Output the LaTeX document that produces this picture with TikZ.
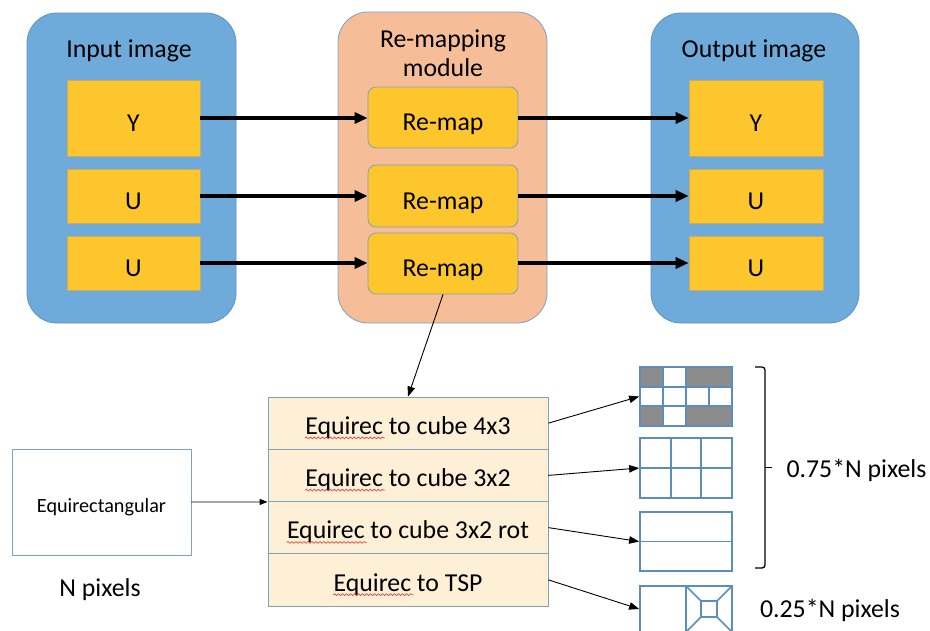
\documentclass[tikz,border=0pt]{standalone}
\usepackage{fontspec}
\setmainfont{Carlito}
\usetikzlibrary{arrows.meta,decorations.pathmorphing}

\definecolor{panelblue}{HTML}{6EABDA}
\definecolor{paneledge}{HTML}{5F92BF}
\definecolor{gold}{HTML}{FEC62D}
\definecolor{goldedge}{HTML}{C9AC62}
\definecolor{peach}{HTML}{F5BE98}
\definecolor{cream}{HTML}{FDF0D7}
\definecolor{slateedge}{HTML}{7FA1C0}
\definecolor{gridblue}{HTML}{5B8EBE}
\definecolor{cellgray}{HTML}{8C8C8C}
\definecolor{spellred}{HTML}{E0302A}

\begin{document}
\begin{tikzpicture}[x=1pt,y=-1pt,
  font=\fontsize{25.8}{29}\selectfont,
  panel/.style={draw=paneledge, line width=0.8pt, fill=panelblue, rounded corners=30pt, inner sep=0pt},
  chan/.style={draw=goldedge, line width=0.6pt, fill=gold, inner sep=0pt, text height=26pt, text depth=0pt},
  remapbox/.style={draw=slateedge, line width=0.8pt, fill=gold, rounded corners=8pt, inner sep=0pt,
                   minimum width=150pt, text height=26pt, text depth=0pt},
  maprow/.style={draw=slateedge, line width=0.9pt, fill=cream, minimum width=280pt, minimum height=52.25pt, inner sep=0pt},
  rowtext/.style={inner sep=0pt, anchor=base},
  layout/.style={draw=gridblue, line width=1.7pt, minimum width=92pt, inner sep=0pt},
  gridline/.style={draw=gridblue, line width=1.7pt},
  bigarrow/.style={line width=3.3pt, -{Triangle[length=13pt,width=11pt]}},
  thinarrow/.style={line width=0.9pt, -{Triangle[length=10pt,width=7.5pt]}},
  squiggle/.style={draw=spellred, line width=0.6pt,
                   decorate, decoration={snake, amplitude=0.9pt, segment length=4pt}}
]
\useasboundingbox (0,0) rectangle (930,630);
\clip (0,0) rectangle (930,630);

% ---- three top panels ----
\node[panel, minimum width=209pt, minimum height=310pt] (inpanel) at (131.5,168) {};
\node[panel, fill=peach, draw=slateedge, minimum width=209pt, minimum height=311pt] (midpanel) at (442.5,167.5) {};
\node[panel, minimum width=208pt, minimum height=310pt] (outpanel) at (755,168) {};

\node[anchor=base] (intitle) at (129,57.3) {Input image};
\node[align=center] (midtitle) at (443,53.5) {Re-mapping\\module};
\node[anchor=base] (outtitle) at (754,57.8) {Output image};

% ---- Y/U/U channels ----
\node[chan, minimum width=133pt, minimum height=76pt] (inY)  at (133.5,118) {Y};
\node[chan, minimum width=133pt, minimum height=54pt] (inU1) at (133.5,196) {U};
\node[chan, minimum width=133pt, minimum height=54pt] (inU2) at (133.5,263) {U};

\node[remapbox, minimum height=61pt] (rm1) at (443,117.5) {Re-map};
\node[remapbox, minimum height=62pt] (rm2) at (443,196) {Re-map};
\node[remapbox, minimum height=61pt] (rm3) at (443,263.5) {Re-map};

\node[chan, minimum width=134pt, minimum height=76pt] (outY)  at (756,118) {Y};
\node[chan, minimum width=134pt, minimum height=54pt] (outU1) at (756,196) {U};
\node[chan, minimum width=134pt, minimum height=54pt] (outU2) at (756,263) {U};

\draw[bigarrow] (inY.east)  -- (rm1.west |- inY.east);
\draw[bigarrow] (inU1.east) -- (rm2.west |- inU1.east);
\draw[bigarrow] (inU2.east) -- (rm3.west |- inU2.east);
\draw[bigarrow] (rm1.east |- outY.west)  -- (outY.west);
\draw[bigarrow] (rm2.east |- outU1.west) -- (outU1.west);
\draw[bigarrow] (rm3.east |- outU2.west) -- (outU2.west);

% ---- mapping table ----
\node[maprow] (row1) at (408,423.125) {};
\node[maprow] (row2) at (408,475.375) {};
\node[maprow] (row3) at (408,527.625) {};
\node[maprow] (row4) at (408,579.875) {};

\node[rowtext] (t1) at ([yshift=-11.2pt]row1.center) {Equirec to cube 4x3};
\node[rowtext] (t2) at ([yshift=-11.2pt]row2.center) {Equirec to cube 3x2};
\node[rowtext] (t3) at ([yshift=-11.2pt]row3.center) {Equirec to cube 3x2 rot};
\node[rowtext] (t4) at ([yshift=-11.2pt]row4.center) {Equirec to TSP};
\foreach \t in {t1,t2,t3,t4}
  \draw[squiggle] ([yshift=-3.6pt]\t.base west) -- ++(80,0);

\draw[thinarrow] (rm3.south) -- (row1.north);

% ---- source frame ----
\node[draw=slateedge, line width=0.9pt, minimum width=179pt, minimum height=106pt, inner sep=0pt,
      text height=20pt, text depth=0pt,
      font=\fontsize{20.2}{24}\selectfont] (equi) at (101.5,502) {Equirectangular};
\node (npix) at (100,590) {N pixels};
\draw[line width=0.9pt, -{Triangle[length=8pt,width=6pt]}] (equi.east) -- (row2.south west);

% ---- output layouts ----
\node[layout, minimum height=59pt] (g1) at (686,396.5) {};
\node[layout, minimum height=60pt] (g2) at (686,468) {};
\node[layout, minimum height=59pt] (g3) at (686,541.5) {};
\node[layout, minimum height=46pt] (g4) at (686,609) {};

% cube 4x3 cross: grey unused faces
\fill[cellgray] (640,367) rectangle (663,386.7);
\fill[cellgray] (686,367) rectangle (732,386.7);
\fill[cellgray] (640,406.3) rectangle (663,426);
\fill[cellgray] (686,406.3) rectangle (732,426);
\draw[gridline] (640,386.7) -- (732,386.7) (640,406.3) -- (732,406.3)
                (663,367) -- (663,426) (686,367) -- (686,426) (709,386.7) -- (709,406.3);
\node[layout, minimum height=59pt] at (g1) {};

% cube 3x2
\draw[gridline] (640,468) -- (732,468) (670.7,438) -- (670.7,498) (701.3,438) -- (701.3,498);
% cube 3x2 rotated
\draw[gridline] (640,541.5) -- (732,541.5);
% TSP
\draw[gridline] (686,586) -- (686,632);
\draw[gridline] (701,601) rectangle (717,617);
\draw[gridline] (686,586) -- (701,601) (732,586) -- (717,601)
                (686,632) -- (701,617) (732,632) -- (717,617);

\draw[thinarrow] (row1.east) -- (g1.west);
\draw[thinarrow] (row2.east) -- (g2.west);
\draw[thinarrow] (row3.east) -- (g3.west);
\draw[thinarrow] (row4.east) -- (g4.west);

% ---- size annotations ----
\draw[line width=1.3pt, rounded corners=3pt] (755,367) -| (765,568) -- (755,568);
\draw[line width=1.3pt] (765,467.5) -- (772,467.5);
\node[anchor=west] (q75) at (783,470) {0.75*N pixels};
\node (q25) at (830,610) {0.25*N pixels};
\end{tikzpicture}
\end{document}
